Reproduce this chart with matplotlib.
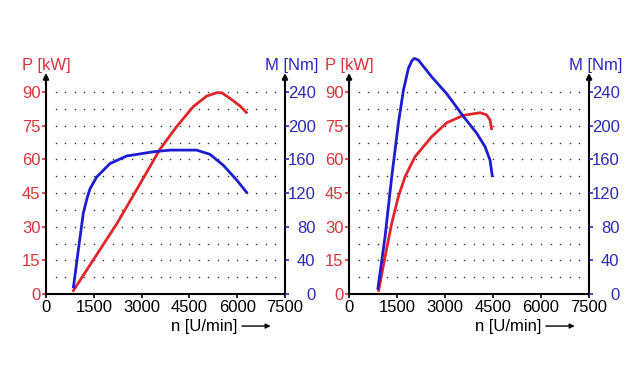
import numpy as np
import matplotlib
matplotlib.use("Agg")
import matplotlib.pyplot as plt

plt.rcParams['font.family'] = ['Liberation Sans', 'DejaVu Sans']

RED = '#e0252b'
BLUE = '#1c1cd0'
RED_TXT = '#d8343a'
BLUE_TXT = '#2a2ab8'

# --- data ---
# left engine
n_p1 = [837, 1485, 2218, 2793, 3577, 4101, 4622, 5043, 5357, 5514, 5774, 6088, 6318]
p1 = [1, 15.2, 31.2, 45.2, 64.5, 74.6, 83.5, 88.2, 89.7, 89.7, 87.2, 83.8, 80.5]
n_m1 = [857, 1014, 1171, 1290, 1381, 1590, 2008, 2531, 3368, 3891, 4729, 5146, 5564, 5984, 6318]
m1 = [6.8, 52, 96, 114, 125, 139, 155, 164, 169, 171, 171, 166, 153, 135.5, 119.7]

# right engine
n_p2 = [917, 1125, 1333, 1542, 1750, 2063, 2583, 3052, 3573, 4094, 4302, 4406, 4458]
p2 = [1, 16.6, 31.5, 43.4, 52.3, 61.2, 70.1, 76.3, 79.6, 80.8, 79.8, 77.5, 73.1]
n_m2 = [896, 1125, 1333, 1542, 1698, 1854, 1960, 2042, 2167, 2583, 3052, 3573, 3990, 4250, 4406, 4479]
m2 = [5, 68, 139, 203, 242, 268, 277, 280, 278, 258, 238, 211, 191, 175, 159, 139]

x_ticks = [0, 1500, 3000, 4500, 6000, 7500]
p_ticks = [0, 15, 30, 45, 60, 75, 90]
m_ticks = [0, 40, 80, 120, 160, 200, 240]
K = 240 / 90  # Nm per kW on the shared scale

fig = plt.figure(figsize=(6.44, 3.74), dpi=100)

panels = [
    (0.0714, 0.3711, n_p1, p1, n_m1, m1),
    (0.5420, 0.3727, n_p2, p2, n_m2, m2),
]

for left, width, n_p, p, n_m, m in panels:
    ax = fig.add_axes([left, 0.2139, width, 0.591])
    ax.set_xlim(0, 7500)
    ax.set_ylim(0, 98.5)

    # dotted grid
    gx, gy = np.meshgrid(np.arange(300, 7201, 300), np.arange(7.5, 90.1, 7.5))
    ax.scatter(gx.ravel(), gy.ravel(), s=1.2, color='#333333', lw=0, zorder=1)

    ax.plot(n_p, p, color=RED, lw=2, zorder=3, clip_on=False,
            solid_capstyle='butt', solid_joinstyle='round')
    ax.plot(n_m, np.array(m) / K, color=BLUE, lw=2, zorder=3, clip_on=False,
            solid_capstyle='butt', solid_joinstyle='round')

    ax.spines['top'].set_visible(False)
    for s in ['left', 'right', 'bottom']:
        ax.spines[s].set_linewidth(1.5)
    ax.spines['left'].set_bounds(0, 95)
    ax.spines['right'].set_bounds(0, 95)

    # arrow heads on both vertical axes
    for xv in (0, 7500):
        ax.annotate('', xy=(xv, 98.5), xytext=(xv, 93), annotation_clip=False,
                    arrowprops=dict(arrowstyle='-|>', color='black', lw=1.5,
                                    mutation_scale=8, shrinkA=0, shrinkB=0))

    ax.set_xticks(x_ticks)
    ax.set_xticklabels([str(t) for t in x_ticks], fontsize=12)
    ax.tick_params(axis='x', length=3, width=1.2, pad=1)

    ax.set_yticks(p_ticks)
    ax.set_yticklabels([str(t) for t in p_ticks], fontsize=12, color=RED_TXT)
    ax.tick_params(axis='y', length=3, width=1.2, pad=1, color=RED_TXT)

    ax2 = ax.twinx()
    ax2.set_ylim(0, 98.5 * K)
    for s in ax2.spines.values():
        s.set_visible(False)
    ax2.set_yticks(m_ticks)
    ax2.set_yticklabels([str(t) for t in m_ticks], fontsize=12, color=BLUE_TXT, ha='right')
    ax2.tick_params(axis='y', length=3, width=1.2, pad=19, color=BLUE_TXT)

    ax.text(-0.1, 1.0, 'P [kW]', transform=ax.transAxes, color=RED_TXT,
            fontsize=12, ha='left', va='bottom')
    ax.text(1.14, 1.0, 'M [Nm]', transform=ax.transAxes, color=BLUE_TXT,
            fontsize=12, ha='right', va='bottom')
    ax.text(0.80, -0.145, 'n [U/min]', transform=ax.transAxes,
            fontsize=12, ha='right', va='center')
    ax.annotate('', xy=(0.94, -0.145), xytext=(0.82, -0.145),
                xycoords='axes fraction', textcoords='axes fraction',
                arrowprops=dict(arrowstyle='-|>', color='black', lw=1,
                                mutation_scale=7, shrinkA=0, shrinkB=0))

fig.savefig('out.png', dpi=100)
